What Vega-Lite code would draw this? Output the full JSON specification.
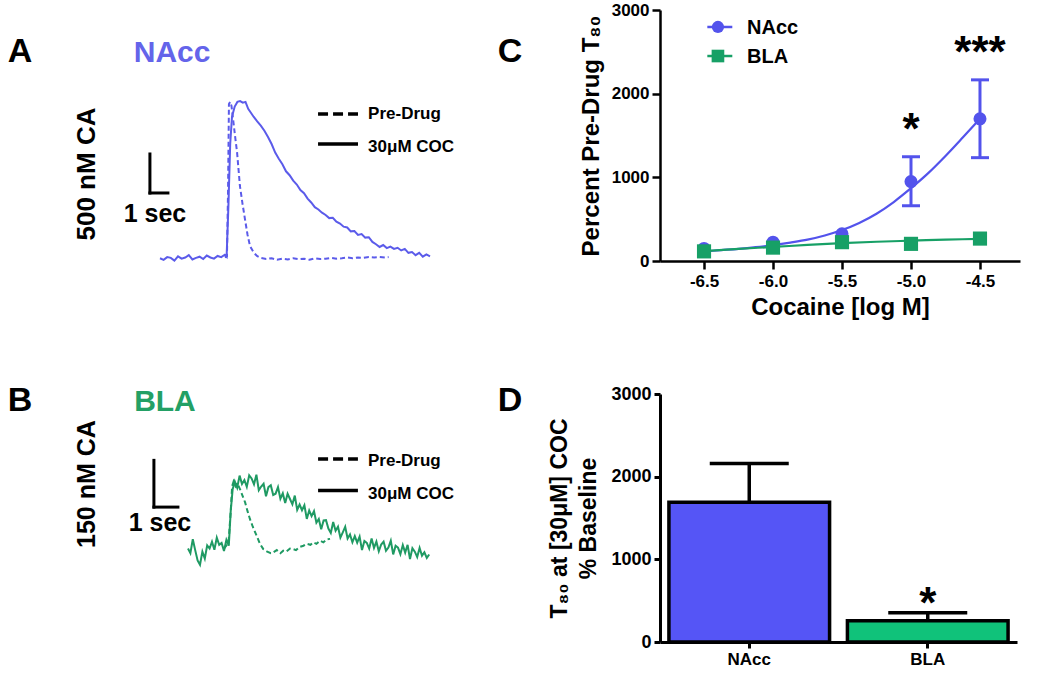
{
"$schema": "https://vega.github.io/schema/vega-lite/v6.json",
"background": "white",
"padding": {"left": 0, "top": 1, "right": 5, "bottom": 5},
"config": {
  "font": "Liberation Sans",
  "view": {"stroke": null},
  "text": {"fontWeight": "bold"},
  "axis": {"domainColor": "black", "tickColor": "black", "labelColor": "black", "titleColor": "black", "labelFontWeight": "bold", "titleFontWeight": "bold", "grid": false}
},
"bounds": "flush",
"columns": 2,
"align": "each",
"spacing": {"row": 133, "column": 190},
"resolve": {"scale": {"color": "independent"}},
"datasets": {
  "a_coc": [
    {"t":0,"v":35},{"t":0.2,"v":15},{"t":0.4,"v":50},{"t":0.6,"v":40},{"t":0.8,"v":5},{"t":1.0,"v":60},{"t":1.2,"v":30},{"t":1.4,"v":45},{"t":1.6,"v":75},{"t":1.8,"v":20},{"t":2.0,"v":40},{"t":2.2,"v":55},{"t":2.4,"v":25},{"t":2.6,"v":70},{"t":2.8,"v":45},{"t":3.0,"v":30},{"t":3.2,"v":65},{"t":3.4,"v":50},{"t":3.6,"v":80},{"t":3.7,"v":55},
    {"t":3.8,"v":700},{"t":3.9,"v":1500},{"t":4.0,"v":1850},{"t":4.15,"v":1980},{"t":4.3,"v":2040},{"t":4.45,"v":2050},{"t":4.6,"v":2030},{"t":4.75,"v":2040},{"t":4.9,"v":1950},{"t":5.05,"v":1900},{"t":5.2,"v":1850},
    {"t":5.4,"v":1790},{"t":5.6,"v":1735},{"t":5.8,"v":1670},{"t":6.0,"v":1590},{"t":6.2,"v":1500},{"t":6.4,"v":1390},{"t":6.6,"v":1310},{"t":6.8,"v":1240},{"t":7.0,"v":1150},{"t":7.2,"v":1100},{"t":7.4,"v":1030},{"t":7.6,"v":980},{"t":7.8,"v":910},{"t":8.0,"v":870},{"t":8.2,"v":800},{"t":8.4,"v":750},{"t":8.6,"v":690},{"t":8.8,"v":660},{"t":9.0,"v":620},{"t":9.2,"v":590},{"t":9.4,"v":550},{"t":9.6,"v":555},{"t":9.8,"v":505},{"t":10.0,"v":480},{"t":10.2,"v":440},{"t":10.4,"v":430},{"t":10.6,"v":380},{"t":10.8,"v":385},{"t":11.0,"v":335},{"t":11.2,"v":345},{"t":11.4,"v":300},{"t":11.6,"v":305},{"t":11.8,"v":245},{"t":12.0,"v":215},{"t":12.2,"v":180},{"t":12.4,"v":205},{"t":12.6,"v":165},{"t":12.8,"v":185},{"t":13.0,"v":155},{"t":13.2,"v":170},{"t":13.4,"v":135},{"t":13.6,"v":155},{"t":13.8,"v":105},{"t":14.0,"v":115},{"t":14.2,"v":75},{"t":14.4,"v":105},{"t":14.6,"v":55},{"t":14.8,"v":85},{"t":15.0,"v":60}
  ],
  "a_pre": [
    {"t":3.6,"v":45},{"t":3.72,"v":60},{"t":3.78,"v":900},{"t":3.83,"v":2013},{"t":3.9,"v":2040},{"t":3.97,"v":1990},{"t":4.06,"v":1820},{"t":4.17,"v":1600},{"t":4.28,"v":1397},{"t":4.36,"v":1180},{"t":4.44,"v":962},{"t":4.58,"v":740},{"t":4.72,"v":538},{"t":4.86,"v":340},{"t":5.0,"v":192},{"t":5.2,"v":110},{"t":5.39,"v":64},{"t":5.6,"v":40},{"t":5.9,"v":25},{"t":6.2,"v":35},{"t":6.5,"v":15},{"t":6.8,"v":30},{"t":7.1,"v":20},{"t":7.4,"v":35},{"t":7.7,"v":25},{"t":8.0,"v":30},{"t":8.3,"v":15},{"t":8.6,"v":35},{"t":8.9,"v":25},{"t":9.2,"v":30},{"t":9.5,"v":40},{"t":9.8,"v":30},{"t":10.1,"v":35},{"t":10.4,"v":45},{"t":10.7,"v":35},{"t":11.0,"v":45},{"t":11.3,"v":40},{"t":11.6,"v":50},{"t":11.9,"v":45},{"t":12.2,"v":50},{"t":12.5,"v":45},{"t":12.7,"v":50}
  ],
  "b_coc": [
    {"t":0.0,"v":300},{"t":0.1,"v":285},{"t":0.2,"v":330},{"t":0.3,"v":295},{"t":0.4,"v":262},{"t":0.5,"v":248},{"t":0.6,"v":290},{"t":0.7,"v":268},{"t":0.8,"v":310},{"t":0.9,"v":300},{"t":1.0,"v":322},{"t":1.1,"v":296},{"t":1.2,"v":335},{"t":1.3,"v":312},{"t":1.4,"v":318},{"t":1.5,"v":292},{"t":1.6,"v":328},{"t":1.7,"v":309},
    {"t":1.78,"v":420},{"t":1.86,"v":490},
    {"t":1.95,"v":515},{"t":2.05,"v":495},{"t":2.15,"v":534},{"t":2.25,"v":507},{"t":2.35,"v":520},{"t":2.45,"v":498},{"t":2.55,"v":535},{"t":2.65,"v":525},{"t":2.75,"v":506},{"t":2.85,"v":537},{"t":2.95,"v":487},{"t":3.05,"v":499},{"t":3.15,"v":508},{"t":3.25,"v":468},{"t":3.35,"v":497},{"t":3.45,"v":503},{"t":3.55,"v":472},{"t":3.65,"v":476},{"t":3.75,"v":497},{"t":3.85,"v":460},{"t":3.95,"v":477},{"t":4.05,"v":446},{"t":4.15,"v":476},{"t":4.25,"v":459},{"t":4.35,"v":442},{"t":4.45,"v":470},{"t":4.55,"v":424},{"t":4.65,"v":441},{"t":4.75,"v":423},{"t":4.85,"v":439},{"t":4.95,"v":395},{"t":5.05,"v":422},{"t":5.15,"v":404},{"t":5.25,"v":420},{"t":5.35,"v":383},{"t":5.45,"v":395},{"t":5.55,"v":362},{"t":5.65,"v":390},{"t":5.75,"v":391},{"t":5.85,"v":364},{"t":5.95,"v":350},{"t":6.05,"v":385},{"t":6.15,"v":357},{"t":6.25,"v":370},{"t":6.35,"v":335},{"t":6.45,"v":352},{"t":6.55,"v":370},{"t":6.65,"v":332},{"t":6.75,"v":345},{"t":6.85,"v":320},{"t":6.95,"v":340},{"t":7.05,"v":319},{"t":7.15,"v":338},{"t":7.25,"v":295},{"t":7.35,"v":324},{"t":7.45,"v":318},{"t":7.55,"v":300},{"t":7.65,"v":332},{"t":7.75,"v":302},{"t":7.85,"v":322},{"t":7.95,"v":291},{"t":8.05,"v":313},{"t":8.15,"v":322},{"t":8.25,"v":293},{"t":8.35,"v":303},{"t":8.45,"v":325},{"t":8.55,"v":281},{"t":8.65,"v":309},{"t":8.75,"v":303},{"t":8.85,"v":282},{"t":8.95,"v":311},{"t":9.05,"v":287},{"t":9.15,"v":312},{"t":9.25,"v":266},{"t":9.35,"v":301},{"t":9.45,"v":290},{"t":9.55,"v":273},{"t":9.65,"v":302},{"t":9.75,"v":277},{"t":9.85,"v":288},{"t":9.95,"v":270},{"t":10.05,"v":281}
  ],
  "b_pre": [
    {"t":1.5,"v":300},{"t":1.6,"v":310},{"t":1.7,"v":330},{"t":1.78,"v":420},{"t":1.84,"v":500},{"t":1.9,"v":515},{"t":1.98,"v":500},{"t":2.05,"v":510},{"t":2.17,"v":490},{"t":2.27,"v":470},{"t":2.38,"v":448},{"t":2.48,"v":420},{"t":2.58,"v":395},{"t":2.7,"v":370},{"t":2.86,"v":341},{"t":3.0,"v":315},{"t":3.14,"v":298},{"t":3.3,"v":290},{"t":3.45,"v":285},{"t":3.56,"v":288},{"t":3.7,"v":295},{"t":3.85,"v":285},{"t":3.97,"v":293},{"t":4.1,"v":290},{"t":4.25,"v":300},{"t":4.38,"v":298},{"t":4.5,"v":295},{"t":4.65,"v":305},{"t":4.81,"v":309},{"t":4.95,"v":315},{"t":5.1,"v":312},{"t":5.22,"v":320},{"t":5.35,"v":315},{"t":5.5,"v":325},{"t":5.64,"v":320},{"t":5.8,"v":330},{"t":5.92,"v":331}
  ],
  "c_fit": [
    {"series":"NAcc","x":-6.5,"y":115},{"series":"NAcc","x":-6.375,"y":130},{"series":"NAcc","x":-6.25,"y":145},{"series":"NAcc","x":-6.125,"y":165},{"series":"NAcc","x":-6.0,"y":190},{"series":"NAcc","x":-5.875,"y":220},{"series":"NAcc","x":-5.75,"y":255},{"series":"NAcc","x":-5.625,"y":305},{"series":"NAcc","x":-5.5,"y":370},{"series":"NAcc","x":-5.375,"y":455},{"series":"NAcc","x":-5.25,"y":565},{"series":"NAcc","x":-5.125,"y":705},{"series":"NAcc","x":-5.0,"y":870},{"series":"NAcc","x":-4.875,"y":1050},{"series":"NAcc","x":-4.75,"y":1255},{"series":"NAcc","x":-4.625,"y":1475},{"series":"NAcc","x":-4.5,"y":1700},
    {"series":"BLA","x":-6.5,"y":118},{"series":"BLA","x":-6.25,"y":145},{"series":"BLA","x":-6.0,"y":168},{"series":"BLA","x":-5.75,"y":192},{"series":"BLA","x":-5.5,"y":213},{"series":"BLA","x":-5.25,"y":230},{"series":"BLA","x":-5.0,"y":243},{"series":"BLA","x":-4.75,"y":255},{"series":"BLA","x":-4.5,"y":265}
  ],
  "c_mean": [
    {"series":"NAcc","x":-6.5,"y":150},{"series":"NAcc","x":-6.0,"y":225},{"series":"NAcc","x":-5.5,"y":325},{"series":"NAcc","x":-5.0,"y":950},{"series":"NAcc","x":-4.5,"y":1700},
    {"series":"BLA","x":-6.5,"y":115},{"series":"BLA","x":-6.0,"y":160},{"series":"BLA","x":-5.5,"y":225},{"series":"BLA","x":-5.0,"y":205},{"series":"BLA","x":-4.5,"y":268}
  ],
  "c_err": [
    {"series":"NAcc","x":-5.0,"lo":660,"hi":1245},{"series":"NAcc","x":-4.5,"lo":1235,"hi":2165}
  ],
  "d": [
    {"region":"NAcc","mean":1690,"hi":2160},{"region":"BLA","mean":258,"hi":355}
  ]
},
"concat": [
  {
    "width": 470, "height": 251,
    "encoding": {
      "x": {"field": "t", "type": "quantitative", "scale": {"domain": [-8.889, 17.222], "nice": false, "zero": false}, "axis": null},
      "y": {"field": "v", "type": "quantitative", "scale": {"domain": [0, 3218], "nice": false, "zero": false}, "axis": null}
    },
    "layer": [
      {"data": {"name": "a_pre"}, "mark": {"type": "line", "color": "#5b5bea", "strokeWidth": 2, "strokeDash": [5, 3]}},
      {"data": {"name": "a_coc"}, "mark": {"type": "line", "color": "#5b5bea", "strokeWidth": 2}},
      {"data": {"values": [{"t": -0.56, "v": 872, "t2": -0.56, "v2": 1372}, {"t": -0.56, "v": 872, "t2": 0.44, "v2": 872}]}, "mark": {"type": "rule", "color": "black", "strokeWidth": 3, "strokeCap": "square"}, "encoding": {"x2": {"field": "t2"}, "y2": {"field": "v2"}}},
      {"data": {"values": [{"t": 8.78, "t2": 11.0, "v": 1885}]}, "mark": {"type": "rule", "color": "black", "strokeWidth": 3.5, "strokeDash": [10, 5]}, "encoding": {"x2": {"field": "t2"}}},
      {"data": {"values": [{"t": 8.78, "t2": 11.0, "v": 1500}]}, "mark": {"type": "rule", "color": "black", "strokeWidth": 3.5}, "encoding": {"x2": {"field": "t2"}}},
      {"data": {"values": [{"t": 11.56, "v": 1820, "label": "Pre-Drug"}, {"t": 11.56, "v": 1397, "label": "30μM COC"}]}, "mark": {"type": "text", "align": "left", "baseline": "alphabetic", "fontSize": 17, "color": "black"}, "encoding": {"text": {"field": "label"}}},
      {"data": {"values": [{"t": -0.28, "v": 506, "label": "1 sec"}]}, "mark": {"type": "text", "align": "center", "baseline": "alphabetic", "fontSize": 25, "color": "black"}, "encoding": {"text": {"field": "label"}}},
      {"data": {"values": [{"t": -4.06, "v": 1115, "label": "500 nM CA"}]}, "mark": {"type": "text", "align": "center", "baseline": "middle", "angle": 270, "fontSize": 26, "color": "black"}, "encoding": {"text": {"field": "label"}}},
      {"data": {"values": [{"t": -7.78, "v": 2551, "label": "A"}, {"t": 19.44, "v": 2551, "label": "C"}]}, "mark": {"type": "text", "align": "center", "baseline": "alphabetic", "fontSize": 34, "color": "black"}, "encoding": {"text": {"field": "label"}}},
      {"data": {"values": [{"t": 0.67, "v": 2551, "label": "NAcc"}]}, "mark": {"type": "text", "align": "center", "baseline": "alphabetic", "fontSize": 30, "color": "#6464ea"}, "encoding": {"text": {"field": "label"}}}
    ]
  },
  {
    "width": 360, "height": 251,
    "encoding": {
      "x": {"field": "x", "type": "quantitative", "scale": {"domain": [-6.819, -4.21], "nice": false, "zero": false},
            "axis": {"values": [-6.5, -6, -5.5, -5, -4.5], "labelExpr": "replace(format(datum.value, '.1f'), '−', '-')", "title": "Cocaine [log M]", "domainWidth": 2.5, "tickWidth": 2.5, "tickSize": 8, "labelFontSize": 17, "titleFontSize": 24, "labelPadding": 4, "titlePadding": 6}},
      "y": {"field": "y", "type": "quantitative", "scale": {"domain": [0, 3000], "nice": false},
            "axis": {"values": [0, 1000, 2000, 3000], "format": "d", "title": "Percent Pre-Drug T₈₀", "domainWidth": 2.5, "tickWidth": 2.5, "tickSize": 8, "labelFontSize": 17, "titleFontSize": 24, "labelPadding": 3, "titlePadding": 8}}
    },
    "layer": [
      {"data": {"name": "c_fit"}, "mark": {"type": "line", "strokeWidth": 2.2, "interpolate": "monotone"},
       "encoding": {"color": {"field": "series", "type": "nominal", "scale": {"domain": ["NAcc", "BLA"], "range": ["#5353ec", "#17a066"]}, "legend": null}}},
      {"data": {"name": "c_err"}, "mark": {"type": "rule", "strokeWidth": 3, "color": "#5353ec"}, "encoding": {"y": {"field": "lo", "type": "quantitative"}, "y2": {"field": "hi"}}},
      {"data": {"name": "c_err"}, "mark": {"type": "tick", "orient": "horizontal", "size": 18, "thickness": 3, "opacity": 1, "color": "#5353ec"}, "encoding": {"y": {"field": "lo", "type": "quantitative"}}},
      {"data": {"name": "c_err"}, "mark": {"type": "tick", "orient": "horizontal", "size": 18, "thickness": 3, "opacity": 1, "color": "#5353ec"}, "encoding": {"y": {"field": "hi", "type": "quantitative"}}},
      {"data": {"name": "c_mean"}, "transform": [{"filter": "datum.series == 'NAcc'"}], "mark": {"type": "point", "shape": "circle", "filled": true, "size": 170, "opacity": 1, "color": "#5353ec"}},
      {"data": {"name": "c_mean"}, "transform": [{"filter": "datum.series == 'BLA'"}], "mark": {"type": "point", "shape": "square", "filled": true, "size": 200, "opacity": 1, "color": "#17a066"}},
      {"data": {"values": [{"x": -6.476, "x2": -6.295, "y": 2797, "series": "NAcc"}, {"x": -6.476, "x2": -6.295, "y": 2450, "series": "BLA"}]}, "mark": {"type": "rule", "strokeWidth": 2.5},
       "encoding": {"x2": {"field": "x2"}, "color": {"field": "series", "type": "nominal", "legend": null}}},
      {"data": {"values": [{"x": -6.399, "y": 2797}]}, "mark": {"type": "point", "shape": "circle", "filled": true, "size": 150, "opacity": 1, "color": "#5353ec"}},
      {"data": {"values": [{"x": -6.399, "y": 2450}]}, "mark": {"type": "point", "shape": "square", "filled": true, "size": 160, "opacity": 1, "color": "#17a066"}},
      {"data": {"values": [{"x": -6.188, "y": 2713, "label": "NAcc"}, {"x": -6.188, "y": 2367, "label": "BLA"}]}, "mark": {"type": "text", "align": "left", "baseline": "alphabetic", "fontSize": 20, "color": "black"}, "encoding": {"text": {"field": "label"}}},
      {"data": {"values": [{"x": -5.0, "y": 1393, "label": "*"}, {"x": -4.5, "y": 2313, "label": "***"}]}, "mark": {"type": "text", "align": "center", "baseline": "alphabetic", "fontSize": 44, "color": "black"}, "encoding": {"text": {"field": "label"}}}
    ]
  },
  {
    "width": 470, "height": 248,
    "encoding": {
      "x": {"field": "t", "type": "quantitative", "scale": {"domain": [-7.833, 11.75], "nice": false, "zero": false}, "axis": null},
      "y": {"field": "v", "type": "quantitative", "scale": {"domain": [0, 796], "nice": false, "zero": false}, "axis": null}
    },
    "layer": [
      {"data": {"name": "b_pre"}, "mark": {"type": "line", "color": "#1f9a63", "strokeWidth": 2, "strokeDash": [5, 3]}},
      {"data": {"name": "b_coc"}, "mark": {"type": "line", "color": "#1f9a63", "strokeWidth": 2}},
      {"data": {"values": [{"t": -1.42, "v": 433, "t2": -1.42, "v2": 583}, {"t": -1.42, "v": 433, "t2": -0.42, "v2": 433}]}, "mark": {"type": "rule", "color": "black", "strokeWidth": 3, "strokeCap": "square"}, "encoding": {"x2": {"field": "t2"}, "y2": {"field": "v2"}}},
      {"data": {"values": [{"t": 5.42, "t2": 7.08, "v": 587}]}, "mark": {"type": "rule", "color": "black", "strokeWidth": 3.5, "strokeDash": [10, 5]}, "encoding": {"x2": {"field": "t2"}}},
      {"data": {"values": [{"t": 5.42, "t2": 7.08, "v": 486}]}, "mark": {"type": "rule", "color": "black", "strokeWidth": 3.5}, "encoding": {"x2": {"field": "t2"}}},
      {"data": {"values": [{"t": 7.5, "v": 566, "label": "Pre-Drug"}, {"t": 7.5, "v": 459, "label": "30μM COC"}]}, "mark": {"type": "text", "align": "left", "baseline": "alphabetic", "fontSize": 17, "color": "black"}, "encoding": {"text": {"field": "label"}}},
      {"data": {"values": [{"t": -1.17, "v": 357, "label": "1 sec"}]}, "mark": {"type": "text", "align": "center", "baseline": "alphabetic", "fontSize": 25, "color": "black"}, "encoding": {"text": {"field": "label"}}},
      {"data": {"values": [{"t": -4.19, "v": 507, "label": "150 nM CA"}]}, "mark": {"type": "text", "align": "center", "baseline": "middle", "angle": 270, "fontSize": 25, "color": "black"}, "encoding": {"text": {"field": "label"}}},
      {"data": {"values": [{"t": -7.0, "v": 740, "label": "B"}, {"t": 13.42, "v": 740, "label": "D"}]}, "mark": {"type": "text", "align": "center", "baseline": "alphabetic", "fontSize": 34, "color": "black"}, "encoding": {"text": {"field": "label"}}},
      {"data": {"values": [{"t": -0.96, "v": 740, "label": "BLA"}]}, "mark": {"type": "text", "align": "center", "baseline": "alphabetic", "fontSize": 30, "color": "#23a065"}, "encoding": {"text": {"field": "label"}}}
    ]
  },
  {
    "width": 357, "height": 248,
    "data": {"name": "d"},
    "encoding": {
      "x": {"field": "region", "type": "nominal", "sort": ["NAcc", "BLA"], "scale": {"paddingInner": 0.1, "paddingOuter": 0.05},
            "axis": {"title": null, "labelAngle": 0, "labelFontSize": 17, "domainWidth": 3, "tickWidth": 3, "tickSize": 6, "labelPadding": 3}},
      "y": {"field": "mean", "type": "quantitative", "scale": {"domain": [0, 3000], "nice": false},
            "axis": {"values": [0, 1000, 2000, 3000], "format": "d", "title": ["T₈₀ at [30μM] COC", "% Baseline"], "titleFontSize": 23, "titleLineHeight": 29, "labelFontSize": 18, "domainWidth": 3, "tickWidth": 3, "tickSize": 6, "labelPadding": 3, "titlePadding": 10}}
    },
    "layer": [
      {"mark": {"type": "rule", "strokeWidth": 3.5, "color": "black"}, "encoding": {"y2": {"field": "hi"}}},
      {"mark": {"type": "tick", "orient": "horizontal", "size": 79, "thickness": 3.5, "opacity": 1, "color": "black"}, "encoding": {"y": {"field": "hi", "type": "quantitative"}}},
      {"transform": [{"filter": "datum.region == 'NAcc'"}], "mark": {"type": "bar", "fill": "#5555f6", "stroke": "black", "strokeWidth": 3.5}},
      {"transform": [{"filter": "datum.region == 'BLA'"}], "mark": {"type": "bar", "fill": "#10c27a", "stroke": "black", "strokeWidth": 3.5}},
      {"data": {"values": [{"region": "BLA", "mean": 296, "label": "*"}]}, "mark": {"type": "text", "align": "center", "baseline": "alphabetic", "fontSize": 44, "color": "black"}, "encoding": {"text": {"field": "label"}}}
    ]
  }
]
}
